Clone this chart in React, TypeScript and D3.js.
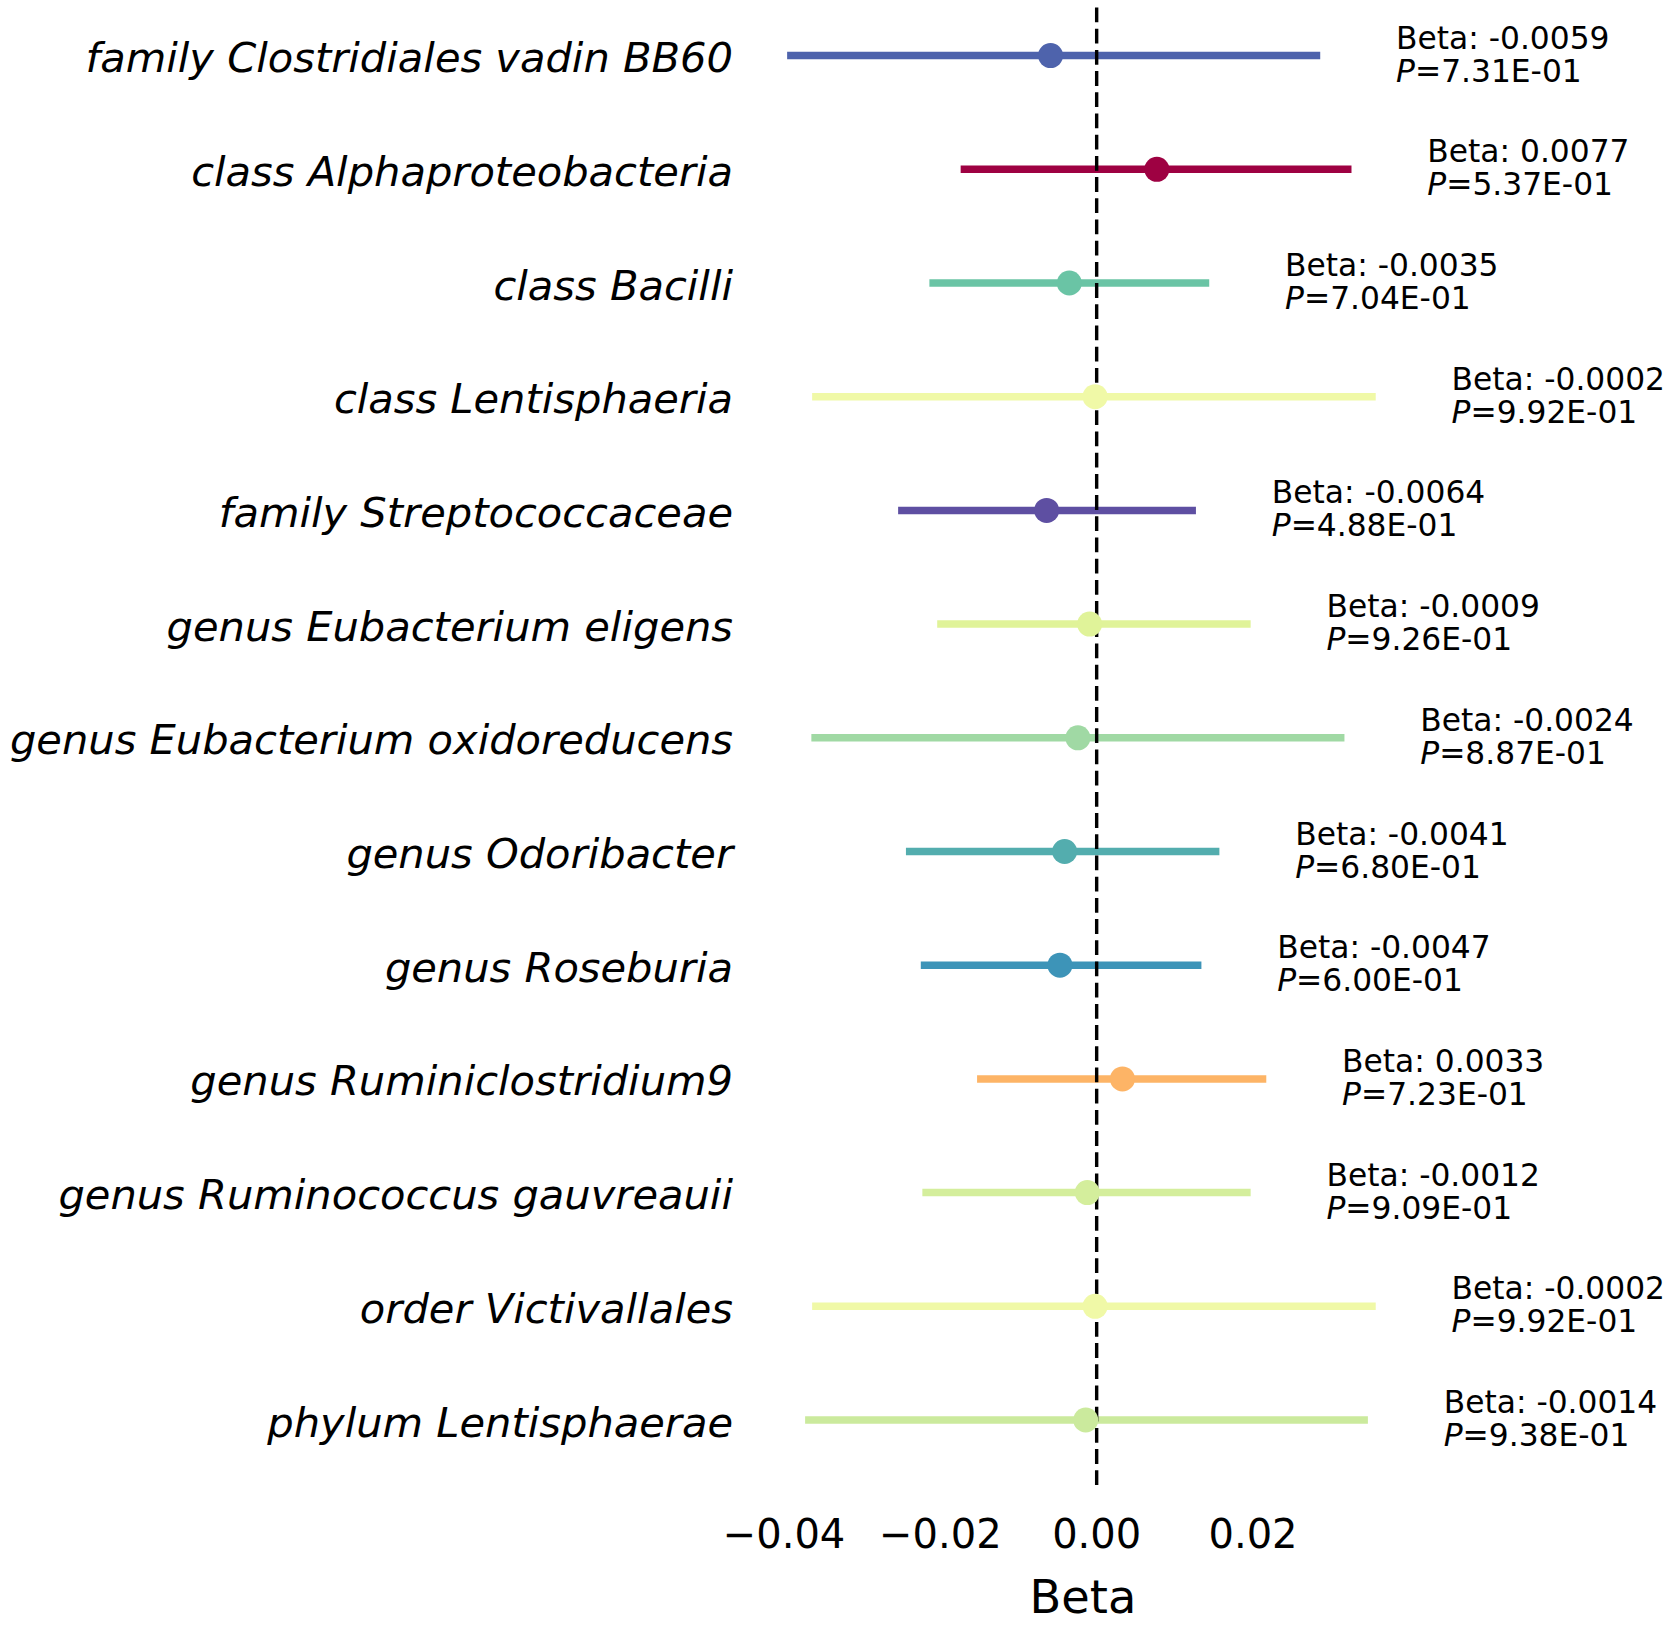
import React, { useEffect } from "react";
import * as d3 from "d3";

const labels = [
  "family Clostridiales vadin BB60",
  "class Alphaproteobacteria",
  "class Bacilli",
  "class Lentisphaeria",
  "family Streptococcaceae",
  "genus Eubacterium eligens",
  "genus Eubacterium oxidoreducens",
  "genus Odoribacter",
  "genus Roseburia",
  "genus Ruminiclostridium9",
  "genus Ruminococcus gauvreauii",
  "order Victivallales",
  "phylum Lentisphaerae",
];
const betas = [-0.0059, 0.0077, -0.0035, -0.0002, -0.0064, -0.0009, -0.0024, -0.0041, -0.0047, 0.0033, -0.0012, -0.0002, -0.0014];
const betaText = ["-0.0059", "0.0077", "-0.0035", "-0.0002", "-0.0064", "-0.0009", "-0.0024", "-0.0041", "-0.0047", "0.0033", "-0.0012", "-0.0002", "-0.0014"];
const lower = [-0.0396, -0.0174, -0.0214, -0.0364, -0.0254, -0.0204, -0.0365, -0.0244, -0.0225, -0.0153, -0.0223, -0.0364, -0.0373];
const upper = [0.0286, 0.0326, 0.0144, 0.0357, 0.0127, 0.0197, 0.0317, 0.0157, 0.0134, 0.0217, 0.0197, 0.0357, 0.0347];
const pvals = ["7.31E-01", "5.37E-01", "7.04E-01", "9.92E-01", "4.88E-01", "9.26E-01", "8.87E-01", "6.80E-01", "6.00E-01", "7.23E-01", "9.09E-01", "9.92E-01", "9.38E-01"];
const xTicks = [-0.04, -0.02, 0, 0.02];
const xLabel = "Beta";

const W = 1668;
const H = 1628;
const FONT = "'DejaVu Sans', sans-serif";

export default function App() {
  useEffect(() => {
    document.body.style.margin = "0";
  }, []);

  const x = d3.scaleLinear().domain([-0.04, 0.02]).range([784, 1253]);
  const y = d3.scalePoint<string>().domain(labels).range([55.6, 1420]).padding(0);

  const bMin = d3.min(betas) as number;
  const bMax = d3.max(betas) as number;
  const spectral = d3
    .scaleLinear<string>()
    .domain(d3.range(11).map((i) => i / 10))
    .range(d3.schemeSpectral[11] as string[])
    .interpolate(d3.interpolateRgb);
  const color = (b: number) => spectral(1 - (b - bMin) / (bMax - bMin));

  const fmt = (v: number) => {
    const s = d3.format(".2f")(Math.abs(v));
    return v < 0 ? "\u2212" + s : s;
  };

  const axisTop = 7.5;
  const axisBottom = 1486;
  const textOffset = 0.0097;

  return (
    <svg width={W} height={H} style={{ display: "block", background: "#fff" }} fontFamily={FONT}>
      <rect x={0} y={0} width={W} height={H} fill="#fff" />
      {labels.map((l) => (
        <text
          key={"lab" + l}
          x={733}
          y={(y(l) as number) + 16.5}
          textAnchor="end"
          fontSize={41.6}
          fontStyle="italic"
          fill="#000"
        >
          {l}
        </text>
      ))}
      {labels.map((l, i) => (
        <line
          key={"ci" + i}
          x1={x(lower[i])}
          x2={x(upper[i])}
          y1={y(l)}
          y2={y(l)}
          stroke={color(betas[i])}
          strokeWidth={7.5}
        />
      ))}
      <line
        x1={x(0)}
        x2={x(0)}
        y1={axisTop}
        y2={axisBottom}
        stroke="#000"
        strokeWidth={3.4}
        strokeDasharray="14.8 6.4"
      />
      {labels.map((l, i) => (
        <circle key={"pt" + i} cx={x(betas[i])} cy={y(l)} r={12.5} fill={color(betas[i])} />
      ))}
      {labels.map((l, i) => {
        const tx = x(upper[i] + textOffset);
        const ty = y(l) as number;
        return (
          <g key={"ann" + i} fontSize={31.3} fill="#000">
            <text x={tx} y={ty - 7}>{"Beta: " + betaText[i]}</text>
            <text x={tx} y={ty + 26}>
              <tspan fontStyle="italic">P</tspan>
              <tspan>{"=" + pvals[i]}</tspan>
            </text>
          </g>
        );
      })}
      {xTicks.map((t) => (
        <text key={"t" + t} x={x(t)} y={1548} textAnchor="middle" fontSize={40} fill="#000">
          {fmt(t)}
        </text>
      ))}
      <text x={1083} y={1613} textAnchor="middle" fontSize={46.3} fill="#000">
        {xLabel}
      </text>
    </svg>
  );
}
